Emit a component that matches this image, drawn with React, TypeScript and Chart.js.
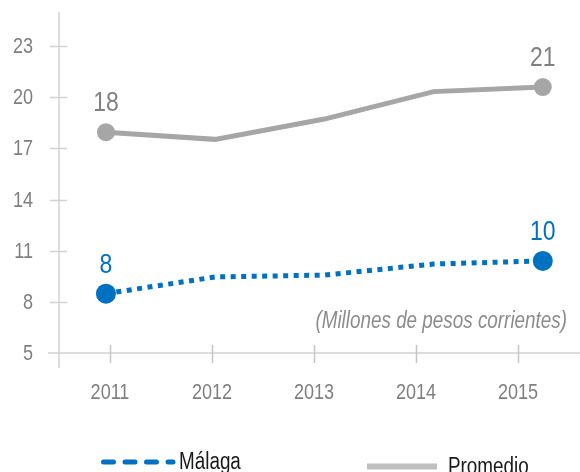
import React, { useEffect, useRef } from 'react';
import { Chart, registerables } from 'chart.js';

Chart.register(...registerables);

const years = ['2011', '2012', '2013', '2014', '2015'];
const yearValues = [2011, 2012, 2013, 2014, 2015];
const malaga = [8.48, 9.46, 9.57, 10.22, 10.4];
const promedio = [17.95, 17.53, 18.72, 20.33, 20.6];
const yTicks = [5, 8, 11, 14, 17, 20, 23];
const seriesNames = ['Málaga', 'Promedio'];
const subtitle = '(Millones de pesos corrientes)';

const BLUE = '#0070C0';
const GREY = '#A6A6A6';
const FONT = "'Liberation Sans', Arial, sans-serif";
const SQUEEZE = 0.82; // Arial Narrow look

function narrowText(
  ctx: CanvasRenderingContext2D,
  text: string,
  x: number,
  y: number,
  font: string,
  color: string,
  align: CanvasTextAlign,
  baseline: CanvasTextBaseline
) {
  ctx.save();
  ctx.font = font;
  ctx.fillStyle = color;
  ctx.textAlign = align;
  ctx.textBaseline = baseline;
  ctx.scale(SQUEEZE, 1);
  ctx.fillText(text, x / SQUEEZE, y);
  ctx.restore();
}

const decor = {
  id: 'decor',
  beforeDatasetsDraw(chart: any) {
    const { ctx, chartArea: a, scales } = chart;
    const x = scales.x;
    const y = scales.y;
    const line = (x1: number, y1: number, x2: number, y2: number) => {
      ctx.beginPath();
      ctx.moveTo(x1, y1);
      ctx.lineTo(x2, y2);
      ctx.stroke();
    };
    ctx.save();
    ctx.strokeStyle = '#d2d2d2';
    ctx.lineWidth = 1.5;
    line(a.left, a.top, a.left, a.bottom + 15);
    line(a.left - 11, a.bottom, chart.width, a.bottom);
    yTicks.forEach((v) => {
      if (v === y.min) return;
      const py = Math.round(y.getPixelForValue(v)) + 0.5;
      line(a.left - 9, py, a.left + 8, py);
    });
    ctx.strokeStyle = '#c4c4c4';
    years.forEach((_, i) => {
      const px = Math.round(x.getPixelForTick(i)) + 0.5;
      line(px, a.bottom - 8, px, a.bottom + 10);
    });
    ctx.restore();

    // tick labels
    yTicks.forEach((v) => {
      narrowText(ctx, String(v), a.left - 26, y.getPixelForValue(v) + 1, `22px ${FONT}`, '#7f7f7f', 'right', 'middle');
    });
    years.forEach((lab, i) => {
      narrowText(ctx, lab, x.getPixelForTick(i), a.bottom + 46, `22px ${FONT}`, '#7f7f7f', 'center', 'alphabetic');
    });
  },
  afterDraw(chart: any) {
    const { ctx, chartArea: a } = chart;
    // subtitle
    narrowText(ctx, subtitle, a.right - 2, a.bottom - 25, `italic 23px ${FONT}`, '#8c8c8c', 'right', 'alphabetic');

    // data labels on first & last points
    const colors = [BLUE, '#808080'];
    chart.data.datasets.forEach((ds: any, di: number) => {
      const meta = chart.getDatasetMeta(di);
      const last = ds.data.length - 1;
      [0, last].forEach((j) => {
        const pt = meta.data[j];
        narrowText(ctx, String(Math.round(ds.data[j].y)), pt.x, pt.y - 21, `28px ${FONT}`, colors[di], 'center', 'alphabetic');
      });
    });

    // legend
    ctx.save();
    ctx.lineCap = 'round';
    ctx.strokeStyle = BLUE;
    ctx.lineWidth = 5;
    ctx.setLineDash([10, 11.5]);
    ctx.beginPath();
    ctx.moveTo(103.5, 462);
    ctx.lineTo(173, 462);
    ctx.stroke();
    ctx.setLineDash([]);
    ctx.lineCap = 'butt';
    ctx.strokeStyle = '#bfbfbf';
    ctx.lineWidth = 6;
    ctx.beginPath();
    ctx.moveTo(367, 466.5);
    ctx.lineTo(437, 466.5);
    ctx.stroke();
    ctx.restore();
    narrowText(ctx, seriesNames[0], 179, 468.5, `23px ${FONT}`, '#1a1a1a', 'left', 'alphabetic');
    narrowText(ctx, seriesNames[1], 448, 473.5, `23px ${FONT}`, '#1a1a1a', 'left', 'alphabetic');
  },
};

export default function App() {
  const ref = useRef<HTMLCanvasElement>(null);
  useEffect(() => {
    if (!ref.current) return;
    const chart = new Chart(ref.current, {
      type: 'line',
      data: {
        datasets: [
          {
            label: seriesNames[0],
            data: malaga.map((v, i) => ({ x: yearValues[i], y: v })),
            xAxisID: 'xd',
            yAxisID: 'y',
            borderColor: BLUE,
            backgroundColor: BLUE,
            borderWidth: 5,
            borderDash: [5, 5.5],
            borderCapStyle: 'butt',
            tension: 0,
            pointRadius: (c: any) => (c.dataIndex === 0 || c.dataIndex === malaga.length - 1 ? 10 : 0),
            pointBorderWidth: 0,
            pointHoverRadius: 0,
          },
          {
            label: seriesNames[1],
            data: promedio.map((v, i) => ({ x: yearValues[i], y: v })),
            xAxisID: 'xd',
            yAxisID: 'y',
            borderColor: GREY,
            backgroundColor: GREY,
            borderWidth: 5,
            tension: 0,
            pointRadius: (c: any) => (c.dataIndex === 0 || c.dataIndex === promedio.length - 1 ? 9 : 0),
            pointBorderWidth: 0,
            pointHoverRadius: 0,
          },
        ],
      },
      options: {
        animation: false,
        responsive: false,
        maintainAspectRatio: false,
        events: [],
        layout: { autoPadding: false, padding: { top: 12, right: 11, left: 0, bottom: 0 } },
        plugins: { legend: { display: false }, tooltip: { enabled: false } },
        scales: {
          x: {
            type: 'category',
            labels: years,
            offset: true,
            position: 'bottom',
            grid: { display: false, drawTicks: false },
            border: { display: false },
            ticks: { display: false },
            afterFit: (s: any) => {
              s.height = 119;
            },
          },
          xd: {
            type: 'linear',
            display: false,
            min: 2010.57,
            max: 2015.24,
          },
          y: {
            type: 'linear',
            min: 5,
            max: 25,
            grid: { display: false, drawTicks: false },
            border: { display: false },
            ticks: { display: false },
            afterBuildTicks: (s: any) => {
              s.ticks = yTicks.map((v) => ({ value: v }));
            },
            afterFit: (s: any) => {
              s.width = 59;
            },
          },
        },
      },
      plugins: [decor],
    } as any);
    return () => chart.destroy();
  }, []);
  return (
    <div style={{ position: 'absolute', left: 0, top: 0, width: 580, height: 472 }}>
      <canvas ref={ref} width={580} height={472} />
    </div>
  );
}
